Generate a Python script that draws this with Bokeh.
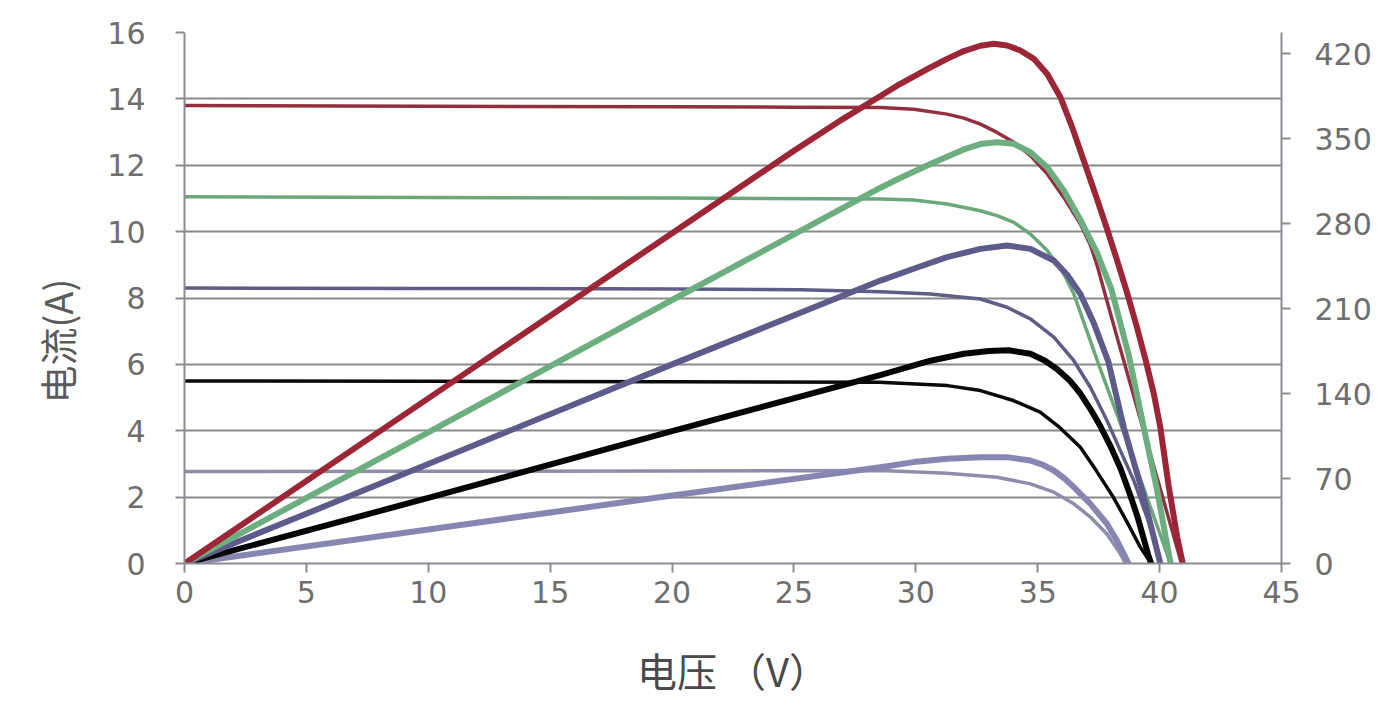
from bokeh.plotting import figure
from bokeh.models import Range1d, LinearAxis, FixedTicker, Title
from bokeh.embed import file_html
from bokeh.resources import INLINE

# ---------------- data ----------------
x_ticks = [0, 5, 10, 15, 20, 25, 30, 35, 40, 45]
current_ticks = [0, 2, 4, 6, 8, 10, 12, 14, 16]
power_ticks = [0, 70, 140, 210, 280, 350, 420]

# Red (highest irradiance)
red_iv_v = [0, 10, 20, 25, 28.55, 29.91, 31.28, 31.97, 32.65, 33.33, 34.02, 34.7, 35.39, 36.07,
            36.75, 37.16, 37.45, 37.75, 38.3, 38.9, 39.5, 40.2, 40.9]
red_iv_i = [13.8, 13.78, 13.76, 13.75, 13.74, 13.69, 13.54, 13.42, 13.24, 12.99, 12.69, 12.29, 11.74, 11.03,
            10.23, 9.6, 8.95, 8.15, 6.7, 5.15, 3.6, 1.8, 0]
red_pv_v = [0, 10, 20, 25, 27.0, 28.55, 29.23, 29.91, 30.6, 31.28, 31.97, 32.65, 33.2, 33.74, 34.29, 34.84, 35.39,
            35.93, 36.4, 36.9, 37.4, 37.85, 38.25, 38.65, 39.05, 39.42, 39.76, 40.03, 40.37, 40.72, 40.95]
red_pv_p = [0, 136, 272, 340, 366, 385, 393.5, 401, 408.5, 415.6, 422, 426.4, 428, 426.6, 422.5, 415.6, 403.2,
            384, 360, 331, 302, 275, 250, 224, 196, 168, 140, 112, 64, 22, 0]

# Green
green_iv_v = [0, 10, 20, 28.55, 29.91, 31.28, 32.65, 33.33, 34.02, 34.7, 35.39, 36.07, 36.48, 37.5, 38.5, 39.5, 40.45]
green_iv_i = [11.05, 11.03, 11.01, 10.98, 10.95, 10.83, 10.63, 10.48, 10.28, 9.93, 9.43, 8.73, 8.12, 6.0, 4.0, 1.95, 0]
green_pv_v = [0, 10, 20, 25, 28.55, 29.23, 29.91, 30.6, 31.28, 31.97, 32.65, 33.33, 34.02, 34.7, 35.39, 36.07,
              36.75, 37.43, 38.02, 38.73, 39.35, 39.9, 40.45]
green_pv_p = [0, 108, 217, 271, 309.5, 316.2, 322.6, 329, 335, 341, 345.4, 347, 345.6, 338.7, 326.4, 307.2,
              283, 256, 226, 172, 112, 60, 0]

# Blue
blue_iv_v = [0, 10, 20, 25.3, 28.55, 30.6, 32.65, 33.74, 34.7, 35.66, 36.48, 37.16, 37.84, 38.39, 38.94,
             39.48, 39.89, 40.03]
blue_iv_i = [8.3, 8.29, 8.27, 8.25, 8.19, 8.12, 7.97, 7.72, 7.37, 6.82, 6.11, 5.31, 4.31, 3.4, 2.5,
             1.4, 0.49, 0]
blue_pv_v = [0, 10, 20, 28.55, 29.91, 31.28, 32.65, 33.74, 34.7, 35.66, 36.2, 36.75, 37.3, 37.9, 38.53, 39.28, 40.03]
blue_pv_p = [0, 82, 164, 233, 242.7, 252.3, 259.1, 261.9, 259.1, 249.5, 238, 222, 198, 166, 112, 60, 0]

# Black
black_iv_v = [0, 10, 20, 28.5, 31.3, 32.65, 34.0, 35.1, 35.9, 36.75, 37.4, 38.1, 38.7, 39.2, 39.65]
black_iv_i = [5.5, 5.49, 5.48, 5.46, 5.36, 5.21, 4.91, 4.56, 4.1, 3.5, 2.8, 2.0, 1.2, 0.5, 0]
black_pv_v = [0, 10, 20, 28.5, 30.6, 31.97, 33.0, 33.8, 34.7, 35.3, 35.8, 36.3, 36.75, 37.2, 37.57, 38.0,
              38.4, 38.8, 39.1, 39.55, 39.65]
black_pv_p = [0, 54, 109, 155, 167, 172.7, 175, 175.6, 172.7, 167, 160, 151, 140, 126, 113, 96,
              78, 56, 38, 6, 0]

# Light purple (lowest irradiance)
lilac_iv_v = [0, 10, 20, 28.55, 31.28, 33.33, 34.7, 35.66, 36.48, 37.16, 37.84, 38.39, 38.6]
lilac_iv_i = [2.77, 2.78, 2.79, 2.8, 2.72, 2.6, 2.4, 2.15, 1.8, 1.4, 0.89, 0.29, 0]
lilac_pv_v = [0, 10, 20, 28.55, 29.91, 31.28, 32.65, 33.74, 34.7, 35.2, 35.66, 36.1, 36.48, 37.16, 37.84,
              38.25, 38.66, 38.72]
lilac_pv_p = [0, 28, 56, 79.3, 83.5, 86.2, 87.6, 87.6, 84.8, 81.5, 76.6, 70, 62.9, 49.1, 32.7, 18.9, 2.5, 0]

series = [
    # (iv_v, iv_i, pv_v, pv_p, iv colour, pv colour)
    (lilac_iv_v, lilac_iv_i, lilac_pv_v, lilac_pv_p, "#8e8dac", "#8786b2"),
    (black_iv_v, black_iv_i, black_pv_v, black_pv_p, "#0a0a0a", "#050505"),
    (blue_iv_v, blue_iv_i, blue_pv_v, blue_pv_p, "#5e5d86", "#5c5b8a"),
    (green_iv_v, green_iv_i, green_pv_v, green_pv_p, "#6aa87a", "#6cae80"),
    (red_iv_v, red_iv_i, red_pv_v, red_pv_p, "#933040", "#9c2636"),
]

GRID = "#8a8a8a"
AXIS = "#8b8b95"
TICK_TXT = "#6e6e6e"

p = figure(
    frame_width=1097, frame_height=531,
    x_range=Range1d(0, 45), y_range=Range1d(0, 16),
    output_backend="svg", toolbar_location=None,
    min_border_left=184, min_border_top=32, min_border_right=94, min_border_bottom=136,
    background_fill_color="white", border_fill_color="white",
)
p.outline_line_color = None
p.extra_y_ranges = {"power": Range1d(0, 437.3)}

# left axis
ly = p.yaxis[0]
ly.ticker = FixedTicker(ticks=current_ticks)

# x axis
xa = p.xaxis[0]
xa.ticker = FixedTicker(ticks=x_ticks)
xa.axis_label = "电压 （V）"
xa.axis_label_text_font = "Noto Sans CJK SC"
xa.axis_label_text_font_size = "40px"
xa.axis_label_text_font_style = "normal"
xa.axis_label_text_color = "#4a4a4a"
xa.axis_label_standoff = 35

# right axis
ra = LinearAxis(y_range_name="power", ticker=FixedTicker(ticks=power_ticks))
p.add_layout(ra, "right")

for ax, standoff in ((ly, 30), (xa, 8), (ra, 24)):
    ax.major_label_text_font = "DejaVu Sans"
    ax.major_label_text_font_size = "30px"
    ax.major_label_text_color = TICK_TXT
    ax.major_label_standoff = standoff
    ax.axis_line_color = AXIS
    ax.axis_line_width = 2
    ax.major_tick_line_color = AXIS
    ax.major_tick_line_width = 2
    ax.major_tick_out = 9
    ax.major_tick_in = 0
    ax.minor_tick_line_color = None

# y-axis title (sits a little below the frame centre, as in the original)
ytitle = Title(text="电流(A)", align="left", offset=160,
               text_font="Noto Sans CJK SC", text_font_size="38px",
               text_font_style="normal", text_color="#5a5a5a", standoff=42)
p.add_layout(ytitle, "left")

p.xgrid.visible = False
p.ygrid.grid_line_color = GRID
p.ygrid.grid_line_width = 2

for iv_v, iv_i, pv_v, pv_p, c_iv, c_pv in series:
    p.line(iv_v, iv_i, line_color=c_iv, line_width=3.5, line_join="round", line_cap="round")
for iv_v, iv_i, pv_v, pv_p, c_iv, c_pv in series:
    p.line(pv_v, pv_p, y_range_name="power", line_color=c_pv, line_width=6,
           line_join="round", line_cap="round")

open("out.html", "w").write(file_html(p, INLINE))
